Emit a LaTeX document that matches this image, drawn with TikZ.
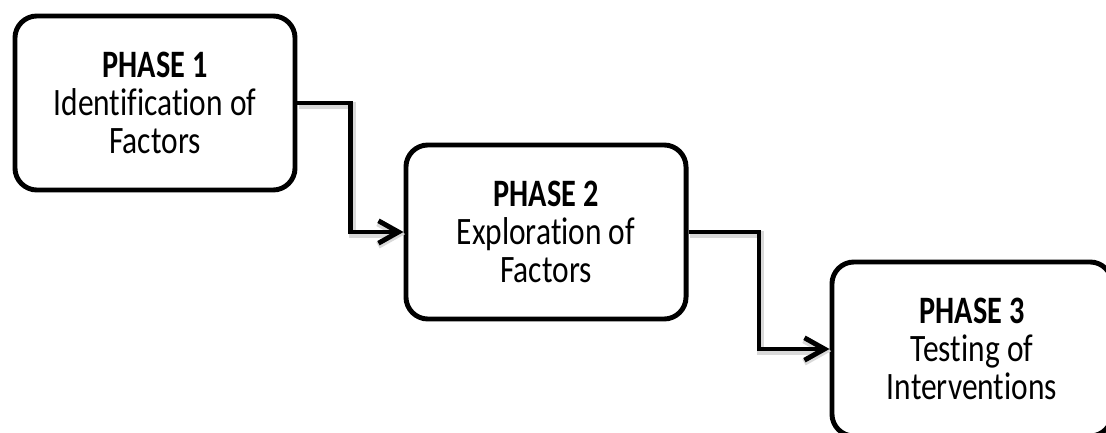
\documentclass[tikz,border=0pt]{standalone}
\usepackage{fontspec}
\setmainfont{Carlito}[FakeStretch=0.81, BoldFeatures={FakeStretch=0.78}, Ligatures={NoCommon}]
\usetikzlibrary{arrows.meta, positioning, calc}
\tikzstyle{phase} = [rectangle, rounded corners=0.55cm, minimum width=7cm, minimum height=4.35cm, text centered, align=center, draw=black, line width=3.5pt, fill=white, font=\fontsize{27.6}{27}\selectfont]
\tikzstyle{arrow} = [line width=3.5pt, -{Straight Barb[length=5mm, width=5.6mm]}, preaction={draw=black!15, line width=5pt, transform canvas={shift={(1.2pt,-1.5pt)}}}]

\begin{document}
\begin{tikzpicture}[x=0.025cm, y=-0.025cm]
	\useasboundingbox (0,0) rectangle (1106,433);
	\node (ident) [phase] at (155,103) {\textbf{PHASE 1}\\Identification of\\Factors};
	\node (explor) [phase] at (546,232) {\textbf{PHASE 2}\\Exploration of\\Factors};
	\node (test) [phase] at (972,349) {\textbf{PHASE 3}\\Testing of\\Interventions};
	\draw[arrow] (ident.east) -| ($(ident.east)!0.5!(explor.west)$) |- (explor.west);
	\draw[arrow] (explor.east) -| ($(explor.east)!0.5!(test.west)$) |- (test.west);
\end{tikzpicture}
\end{document}
